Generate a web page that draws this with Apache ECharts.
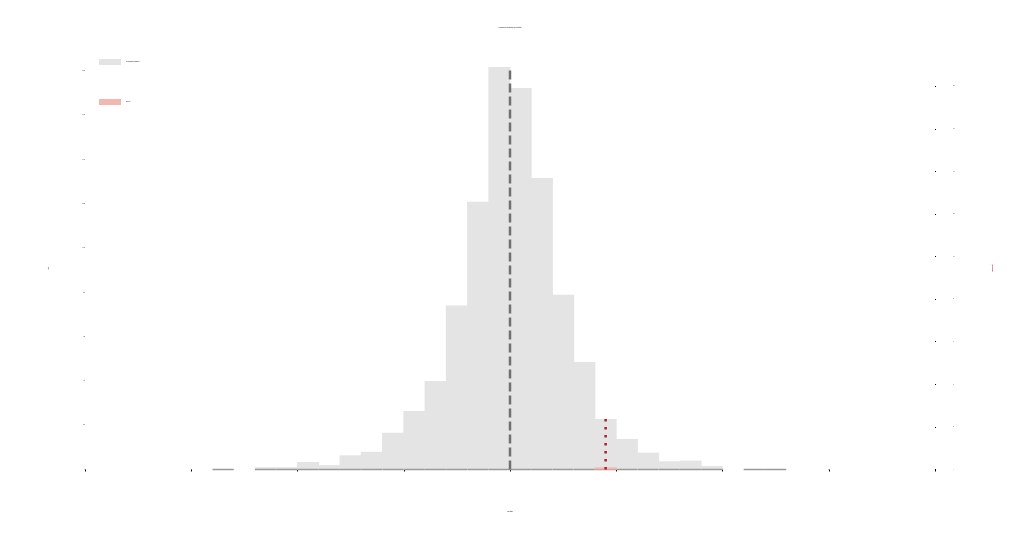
<!DOCTYPE html>
<html>
<head>
<meta charset="utf-8">
<script src="https://cdn.jsdelivr.net/npm/echarts@6/dist/echarts.min.js"></script>
<style>html,body{margin:0;padding:0;background:#fff}#c{width:1020px;height:540px}</style>
</head>
<body>
<div id="c"></div>
<script>
// ---- data ----
const binStarts = [-2.8,-2.6,-2.4,-2.2,-2.0,-1.8,-1.6,-1.4,-1.2,-1.0,-0.8,-0.6,-0.4,-0.2,0.0,0.2,0.4,0.6,0.8,1.0,1.2,1.4,1.6,1.8,2.0,2.2,2.4];
const binEnds   = [-2.6,-2.4,-2.2,-2.0,-1.8,-1.6,-1.4,-1.2,-1.0,-0.8,-0.6,-0.4,-0.2,0.0,0.2,0.4,0.6,0.8,1.0,1.2,1.4,1.6,1.8,2.0,2.2,2.4,2.6];
const nullCounts = [1,0,10,10,34,20,64,80,166,264,400,740,1209,1817,1722,1316,789,485,228,138,76,37,40,16,0,2,1];
const observedBinStart = [0.8];
const observedBinEnd = [1.0];
const observedCounts = [1];
const observedValue = 0.9;
const observedHeight = 228;
const nullCenter = 0;
const nullPeak = 1817;
const xTickMin = -4, xTickMax = 4, xTickStep = 1;
const leftMax = 1817, leftStep = 200;
const rightMax = 189, rightStep = 20;
const seriesNames = ['Null distribution (permutations)', 'Observed'];
const titleText = 'Permutation test: null distribution of the test statistic';
const xName = 'Test statistic';
const yName = 'Count';
const y2Name = 'Observed count';

// ---- chart ----
const GRAY = '#e4e4e4', PINK = '#f4b6b1', RED = '#b2182b';
function histRenderer(fill, baseLine) {
  return function (params, api) {
    const x0 = api.value(0), x1 = api.value(1), v = api.value(2);
    const p0 = api.coord([x0, 0]);
    const p1 = api.coord([x1, v]);
    const children = [{
      type: 'rect',
      shape: { x: p0[0] - 0.4, y: p1[1], width: p1[0] - p0[0] + 0.8, height: p0[1] - p1[1] },
      style: { fill: fill }
    }];
    if (baseLine && v > 0) {
      children.push({
        type: 'line',
        shape: { x1: p0[0], y1: p0[1], x2: p1[0], y2: p0[1] },
        style: { stroke: '#9a9a9a', lineWidth: 1.5 }
      });
    }
    return { type: 'group', children: children };
  };
}
const nullData = binStarts.map((s, i) => [s, binEnds[i], nullCounts[i]]);
const obsData = observedBinStart.map((s, i) => [s, observedBinEnd[i], observedCounts[i]]);

const chart = echarts.init(document.getElementById('c'), null, { renderer: 'canvas' });
chart.setOption({
  animation: false,
  backgroundColor: '#fff',
  title: { text: titleText, left: 'center', top: 22, textStyle: { fontSize: 1, color: '#000', fontWeight: 'normal' } },
  legend: {
    data: seriesNames, orient: 'vertical', left: 99, top: 59, padding: 0,
    itemWidth: 22, itemHeight: 6, itemGap: 34, icon: 'rect',
    textStyle: { fontSize: 1, color: '#000' }
  },
  grid: { left: 85, right: 85, top: 67, bottom: 70.5 },
  xAxis: {
    type: 'value', min: xTickMin, max: xTickMax, interval: xTickStep,
    name: xName, nameLocation: 'middle', nameGap: 42, nameTextStyle: { fontSize: 1, color: '#000' },
    axisLine: { show: false },
    axisTick: { show: true, length: 2, lineStyle: { color: '#000', width: 1 } },
    axisLabel: { fontSize: 1, color: '#000', margin: 0 },
    splitLine: { show: false }
  },
  yAxis: [{
    type: 'value', min: 0, max: leftMax, interval: leftStep,
    name: yName, nameLocation: 'middle', nameGap: 36, nameTextStyle: { fontSize: 1, color: '#555' },
    axisLine: { show: false },
    axisTick: { show: true, length: 1, lineStyle: { color: '#000' } },
    axisLabel: { fontSize: 1, color: '#000', margin: 0, showMaxLabel: false },
    splitLine: { show: false }
  }, {
    type: 'value', min: 0, max: rightMax, interval: rightStep, position: 'right',
    name: y2Name, nameLocation: 'middle', nameGap: 57, nameTextStyle: { fontSize: 1, color: RED },
    axisLine: { show: false },
    axisTick: { show: true, length: 1, lineStyle: { color: '#000' } },
    axisLabel: { fontSize: 1, color: RED, margin: 18, showMaxLabel: false },
    splitLine: { show: false }
  }],
  series: [{
    name: seriesNames[0], type: 'custom', renderItem: histRenderer(GRAY, true),
    itemStyle: { color: GRAY }, encode: { x: [0, 1], y: 2 }, data: nullData, z: 2
  }, {
    name: seriesNames[1], type: 'custom', yAxisIndex: 1, renderItem: histRenderer(PINK, false),
    itemStyle: { color: PINK }, encode: { x: [0, 1], y: 2 }, data: obsData, z: 3
  }, {
    name: 'center', type: 'line', symbol: 'none', silent: true, z: 4,
    data: [[nullCenter, 0], [nullCenter, nullPeak]],
    lineStyle: { color: '#707070', width: 2.5, type: [9, 4] }
  }, {
    name: 'observed line', type: 'line', symbol: 'none', silent: true, z: 5,
    data: [[observedValue, 0], [observedValue, observedHeight]],
    lineStyle: { color: RED, width: 2.5, type: [2.5, 5.5] }
  }]
});
</script>
</body>
</html>
